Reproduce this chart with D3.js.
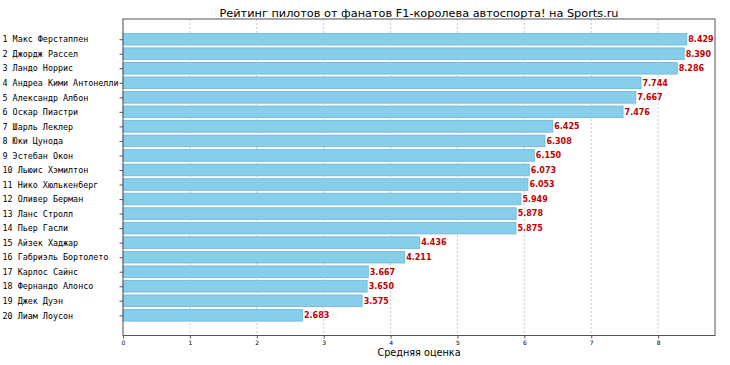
<!DOCTYPE html>
<html><head><meta charset="utf-8">
<script src="https://cdn.jsdelivr.net/npm/d3@7"></script>
<style>body{margin:0;background:#fff}</style>
</head><body>
<svg id="c" width="730" height="365"></svg>
<script>
const drivers = ["1 Макс Ферстаппен","2 Джордж Рассел","3 Ландо Норрис","4 Андреа Кими Антонелли","5 Александр Албон","6 Оскар Пиастри","7 Шарль Леклер","8 Юки Цунода","9 Эстебан Окон","10 Льюис Хэмилтон","11 Нико Хюлькенберг","12 Оливер Берман","13 Ланс Стролл","14 Пьер Гасли","15 Айзек Хаджар","16 Габриэль Бортолето","17 Карлос Сайнс","18 Фернандо Алонсо","19 Джек Дуэн","20 Лиам Лоусон"];
const ratings = [8.429,8.390,8.286,7.744,7.667,7.476,6.425,6.308,6.150,6.073,6.053,5.949,5.878,5.875,4.436,4.211,3.667,3.650,3.575,2.683];
const xTicks = [0,1,2,3,4,5,6,7,8];
const title = "Рейтинг пилотов от фанатов F1-королева автоспорта! на Sports.ru";
const xLabel = "Средняя оценка";

const svg = d3.select("#c");
const L = 123, R = 715, T = 19, B = 335.5;
const xmax = d3.max(ratings) * 1.05;
const x = d3.scaleLinear().domain([0, xmax]).range([L, R]);
const y = d3.scaleLinear().domain([-0.4 - 0.99, 19.4 + 0.99]).range([T, B]);

// grid
svg.append("g").selectAll("line").data(xTicks).join("line")
  .attr("x1", d => x(d)).attr("x2", d => x(d)).attr("y1", T).attr("y2", B)
  .attr("stroke", "#bbb").attr("stroke-width", 0.8).attr("stroke-dasharray", "2,2");

// bars
svg.append("g").selectAll("rect").data(ratings).join("rect")
  .attr("x", x(0)).attr("y", (d, i) => y(i - 0.4))
  .attr("width", d => x(d) - x(0)).attr("height", (d, i) => y(i + 0.4) - y(i - 0.4))
  .attr("fill", "#87CEEB").attr("stroke", "#6fb3d6").attr("stroke-width", 0.8);

// value labels
svg.append("g").selectAll("text").data(ratings).join("text")
  .attr("x", d => x(d) + 1.5).attr("y", (d, i) => y(i)).attr("dy", "0.35em")
  .attr("font-family", "DejaVu Sans").attr("font-weight", "bold").attr("font-size", 8)
  .attr("fill", "#c00000").text(d => d.toFixed(3));

// frame
svg.append("rect").attr("x", L).attr("y", T).attr("width", R - L).attr("height", B - T)
  .attr("fill", "none").attr("stroke", "#555").attr("stroke-width", 1);

// y axis
const yg = svg.append("g").attr("transform", `translate(${L},0)`);
yg.call(d3.axisLeft(y).tickValues(d3.range(drivers.length)).tickFormat(i => drivers[i]).tickSize(3.5).tickPadding(2));
yg.select(".domain").remove();
yg.selectAll("text").attr("font-family", "DejaVu Sans Mono").attr("font-size", 8.4).attr("fill", "#000")
  .attr("text-anchor", "start").attr("x", 2.5 - L);
yg.selectAll("line").attr("stroke", "#555");

// x axis
const xg = svg.append("g").attr("transform", `translate(0,${B})`);
xg.call(d3.axisBottom(x).tickValues(xTicks).tickFormat(d3.format("d")).tickSize(3).tickPadding(2));
xg.select(".domain").remove();
xg.selectAll("text").attr("font-family", "DejaVu Sans").attr("font-size", 6).attr("fill", "#000");
xg.selectAll("line").attr("stroke", "#555");

svg.append("text").attr("x", (L + R) / 2).attr("y", 356).attr("text-anchor", "middle")
  .attr("font-family", "DejaVu Sans").attr("font-size", 9.7).text(xLabel);
svg.append("text").attr("x", (L + R) / 2).attr("y", 16.5).attr("text-anchor", "middle")
  .attr("font-family", "DejaVu Sans").attr("font-size", 11.3).text(title);
</script>
</body></html>
